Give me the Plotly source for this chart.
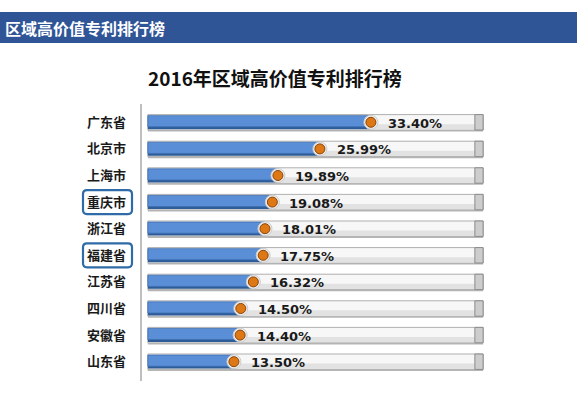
import plotly.graph_objects as go

# ---- data ----
regions = ["广东省", "北京市", "上海市", "重庆市", "浙江省", "福建省", "江苏省", "四川省", "安徽省", "山东省"]
shares = [33.40, 25.99, 19.89, 19.08, 18.01, 17.75, 16.32, 14.50, 14.40, 13.50]
value_labels = ["33.40%", "25.99%", "19.89%", "19.08%", "18.01%", "17.75%", "16.32%", "14.50%", "14.40%", "13.50%"]
highlighted = ["重庆市", "福建省"]
track_end = 49.7
bar_start = 1.0
x_max = 50.7
banner_text = "区域高价值专利排行榜"
title_text = "2016年区域高价值专利排行榜"

# ---- geometry (pixels) ----
W, H = 577, 396
L, R, T, B = 141, 87, 109, 21
pw, ph = W - L - R, H - T - B


def px_x(px):
    return (px - L) / pw


def px_y(py):
    return (H - B - py) / ph


CJK = "Noto Sans CJK SC"
n = len(regions)
fig = go.Figure()

# track shadow
fig.add_trace(go.Bar(
    y=regions, x=[track_end - bar_start] * n, base=[bar_start] * n,
    orientation="h", width=0.62, offset=-0.27,
    marker=dict(color="#B5B5B5", line=dict(width=0)), hoverinfo="skip", showlegend=False))
# track
fig.add_trace(go.Bar(
    y=regions, x=[track_end - bar_start] * n, base=[bar_start] * n,
    orientation="h", width=0.58,
    marker=dict(color="#F7F7F7", line=dict(color="#B0B0B0", width=1)), hoverinfo="skip", showlegend=False))
# track lower half (gradient feel)
fig.add_trace(go.Bar(
    y=regions, x=[track_end - bar_start] * n, base=[bar_start] * n,
    orientation="h", width=0.2, offset=0.07,
    marker=dict(color="#E2E2E2", line=dict(width=0)), hoverinfo="skip", showlegend=False))
# darker right bevel
fig.add_trace(go.Bar(
    y=regions, x=[1.2] * n, base=[track_end - 1.2] * n,
    orientation="h", width=0.58,
    marker=dict(color="#CDCDCD", line=dict(color="#8C8C8C", width=1)), hoverinfo="skip", showlegend=False))
# blue shadow
fig.add_trace(go.Bar(
    y=regions, x=[v - bar_start for v in shares], base=[bar_start] * n,
    orientation="h", width=0.46, offset=-0.2,
    marker=dict(color="#2D5C99", line=dict(width=0)), hoverinfo="skip", showlegend=False))
# blue bar
fig.add_trace(go.Bar(
    y=regions, x=[v - bar_start for v in shares], base=[bar_start] * n,
    orientation="h", width=0.42, offset=-0.25,
    marker=dict(color="#5A8FD8", line=dict(color="#3E6DB0", width=0.8)), hoverinfo="skip", showlegend=False))
# ball halo
fig.add_trace(go.Scatter(
    y=regions, x=shares, mode="markers",
    marker=dict(size=14, color="#F0F0F0", line=dict(color="#CCCCCC", width=1)),
    hoverinfo="skip", showlegend=False))
# ball
fig.add_trace(go.Scatter(
    y=regions, x=shares, mode="markers",
    marker=dict(size=10, color="#DE7814", line=dict(color="#8A4307", width=1)),
    hoverinfo="skip", showlegend=False))

annotations = []
for r, v, t in zip(regions, shares, value_labels):
    annotations.append(dict(x=v, y=r, xref="x", yref="y", text=t, showarrow=False,
                            xanchor="left", yanchor="middle", xshift=15, yshift=-1,
                            font=dict(family="DejaVu Sans", size=13, color="#1A1A1A", weight="bold")))

annotations.append(dict(x=px_x(3), y=px_y(28), xref="paper", yref="paper", text=banner_text,
                        showarrow=False, xanchor="left", yanchor="middle",
                        font=dict(family=CJK, size=16, color="white", weight="bold")))
annotations.append(dict(x=px_x(275), y=px_y(78), xref="paper", yref="paper", text=title_text,
                        showarrow=False, xanchor="center", yanchor="middle",
                        font=dict(family=CJK, size=19, color="#111111", weight="bold")))

shapes = [
    dict(type="rect", xref="paper", yref="paper", x0=px_x(0), x1=px_x(W), y0=px_y(43), y1=px_y(12),
         fillcolor="#2F5597", line=dict(width=0), layer="below"),
    dict(type="line", xref="paper", yref="paper", x0=0, x1=0, y0=px_y(381), y1=px_y(104),
         line=dict(color="#7F7F7F", width=1)),
]


def rounded_box(x0, y0, x1, y1, r=4):
    # pixel box -> paper path with rounded corners
    def P(x, y):
        return f"{px_x(x):.5f},{px_y(y):.5f}"
    return (f"M {P(x0 + r, y0)} L {P(x1 - r, y0)} Q {P(x1, y0)} {P(x1, y0 + r)} "
            f"L {P(x1, y1 - r)} Q {P(x1, y1)} {P(x1 - r, y1)} L {P(x0 + r, y1)} "
            f"Q {P(x0, y1)} {P(x0, y1 - r)} L {P(x0, y0 + r)} Q {P(x0, y0)} {P(x0 + r, y0)} Z")


row_h = ph / n
for name in highlighted:
    i = regions.index(name)
    cy = T + row_h * (i + 0.5)
    shapes.append(dict(type="path", xref="paper", yref="paper",
                       path=rounded_box(83, cy - 12, 132, cy + 12),
                       line=dict(color="#2E6BA8", width=2.2), fillcolor="rgba(0,0,0,0)"))

fig.update_layout(
    width=W, height=H, margin=dict(l=L, r=R, t=T, b=B),
    paper_bgcolor="white", plot_bgcolor="white",
    barmode="overlay", showlegend=False,
    xaxis=dict(range=[0, x_max], visible=False, fixedrange=True),
    yaxis=dict(range=[n - 0.5, -0.5], showgrid=False, zeroline=False, showline=False,
               ticks="", ticklabelstandoff=14, fixedrange=True,
               tickfont=dict(family=CJK, size=13, color="#1A1A1A", weight="bold")),
    annotations=annotations, shapes=shapes,
)

fig.write_html("out.html", config={"displayModeBar": False},
               post_script="document.body.style.margin='0';")
